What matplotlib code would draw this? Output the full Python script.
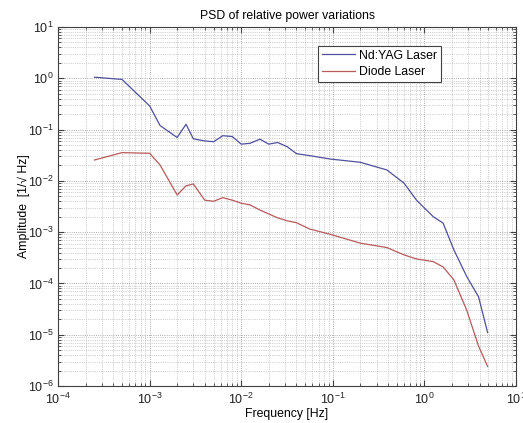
import matplotlib
matplotlib.use("Agg")
import matplotlib.pyplot as plt
from matplotlib.ticker import LogLocator, NullFormatter

freq = [2.5e-4, 5e-4, 1e-3, 1.3e-3, 2e-3, 2.5e-3, 3e-3, 4e-3, 5e-3, 6.3e-3, 8e-3,
        1e-2, 1.25e-2, 1.6e-2, 2e-2, 2.5e-2, 3.2e-2, 4e-2, 5.6e-2, 9.3e-2, 0.2,
        0.39, 0.6, 0.82, 1.25, 1.6, 2.1, 2.9, 3.9, 4.9]

ndyag = [1.05, 0.95, 0.29, 0.12, 0.07, 0.127, 0.066, 0.06, 0.058, 0.076, 0.073,
         0.052, 0.054, 0.065, 0.052, 0.056, 0.046, 0.034, 0.031, 0.0267, 0.023,
         0.0163, 0.009, 0.0042, 0.002, 0.0015, 4.5e-4, 1.36e-4, 5.5e-5, 1.1e-5]

diode = [0.0255, 0.0355, 0.0345, 0.0204, 0.0053, 0.008, 0.0087, 0.0042, 0.004,
         0.0047, 0.0042, 0.00366, 0.0034, 0.0027, 0.00226, 0.0019, 0.00166,
         0.00153, 0.00115, 9.1e-4, 6.1e-4, 5e-4, 3.6e-4, 3e-4, 2.66e-4, 2.1e-4,
         1.17e-4, 3e-5, 6e-6, 2.4e-6]

plt.rcParams['font.family'] = ['Liberation Sans', 'DejaVu Sans']
plt.rcParams['mathtext.fontset'] = 'custom'
plt.rcParams['mathtext.rm'] = 'Liberation Sans'
plt.rcParams['mathtext.it'] = 'Liberation Sans'
plt.rcParams['mathtext.default'] = 'regular'

fig = plt.figure(figsize=(5.23, 4.23), dpi=100)
ax = fig.add_axes([58/523, 1-386/423, (516-58)/523, (386-27)/423])

ax.loglog(freq, ndyag, color='#50509c', lw=0.9, label='Nd:YAG Laser')
ax.loglog(freq, diode, color='#b85a5a', lw=0.9, label='Diode Laser')

ax.set_xlim(1e-4, 1e1)
ax.set_ylim(1e-6, 1e1)
ax.xaxis.set_major_locator(LogLocator(base=10, numticks=20))
ax.yaxis.set_major_locator(LogLocator(base=10, numticks=20))
ax.xaxis.set_minor_locator(LogLocator(base=10, subs=range(2, 10), numticks=50))
ax.yaxis.set_minor_locator(LogLocator(base=10, subs=range(2, 10), numticks=50))
ax.xaxis.set_minor_formatter(NullFormatter())
ax.yaxis.set_minor_formatter(NullFormatter())

ax.grid(True, which='major', linestyle=':', color='#909090', lw=0.6)
ax.grid(True, which='minor', linestyle=':', color='#a8a8a8', lw=0.5)
ax.tick_params(which='both', direction='in', top=True, right=True, labelsize=9,
               color='#404040', labelcolor='#222222')
ax.tick_params(axis='x', which='major', pad=4)
ax.tick_params(axis='y', which='major', pad=3)
ax.tick_params(which='major', length=4)
ax.tick_params(which='minor', length=2)
for s in ax.spines.values():
    s.set_color('#404040')
    s.set_linewidth(0.8)

ax.set_title('PSD of relative power variations', fontsize=8.8, pad=6)
ax.set_xlabel('Frequency [Hz]', fontsize=8.8, labelpad=1)
ax.set_ylabel('Amplitude  [1/\u221a Hz]', fontsize=8.8, labelpad=-1.5)

leg = ax.legend(loc='upper left', bbox_to_anchor=((318-58)/458, 1-(46-27)/359),
                fontsize=8.8, fancybox=False, framealpha=1, edgecolor='#404040',
                handlelength=2.7, borderpad=0.3, labelspacing=0.35,
                handletextpad=0.35, borderaxespad=0)
leg.get_frame().set_linewidth(0.8)

fig.savefig('out.png', dpi=100, facecolor='white')
